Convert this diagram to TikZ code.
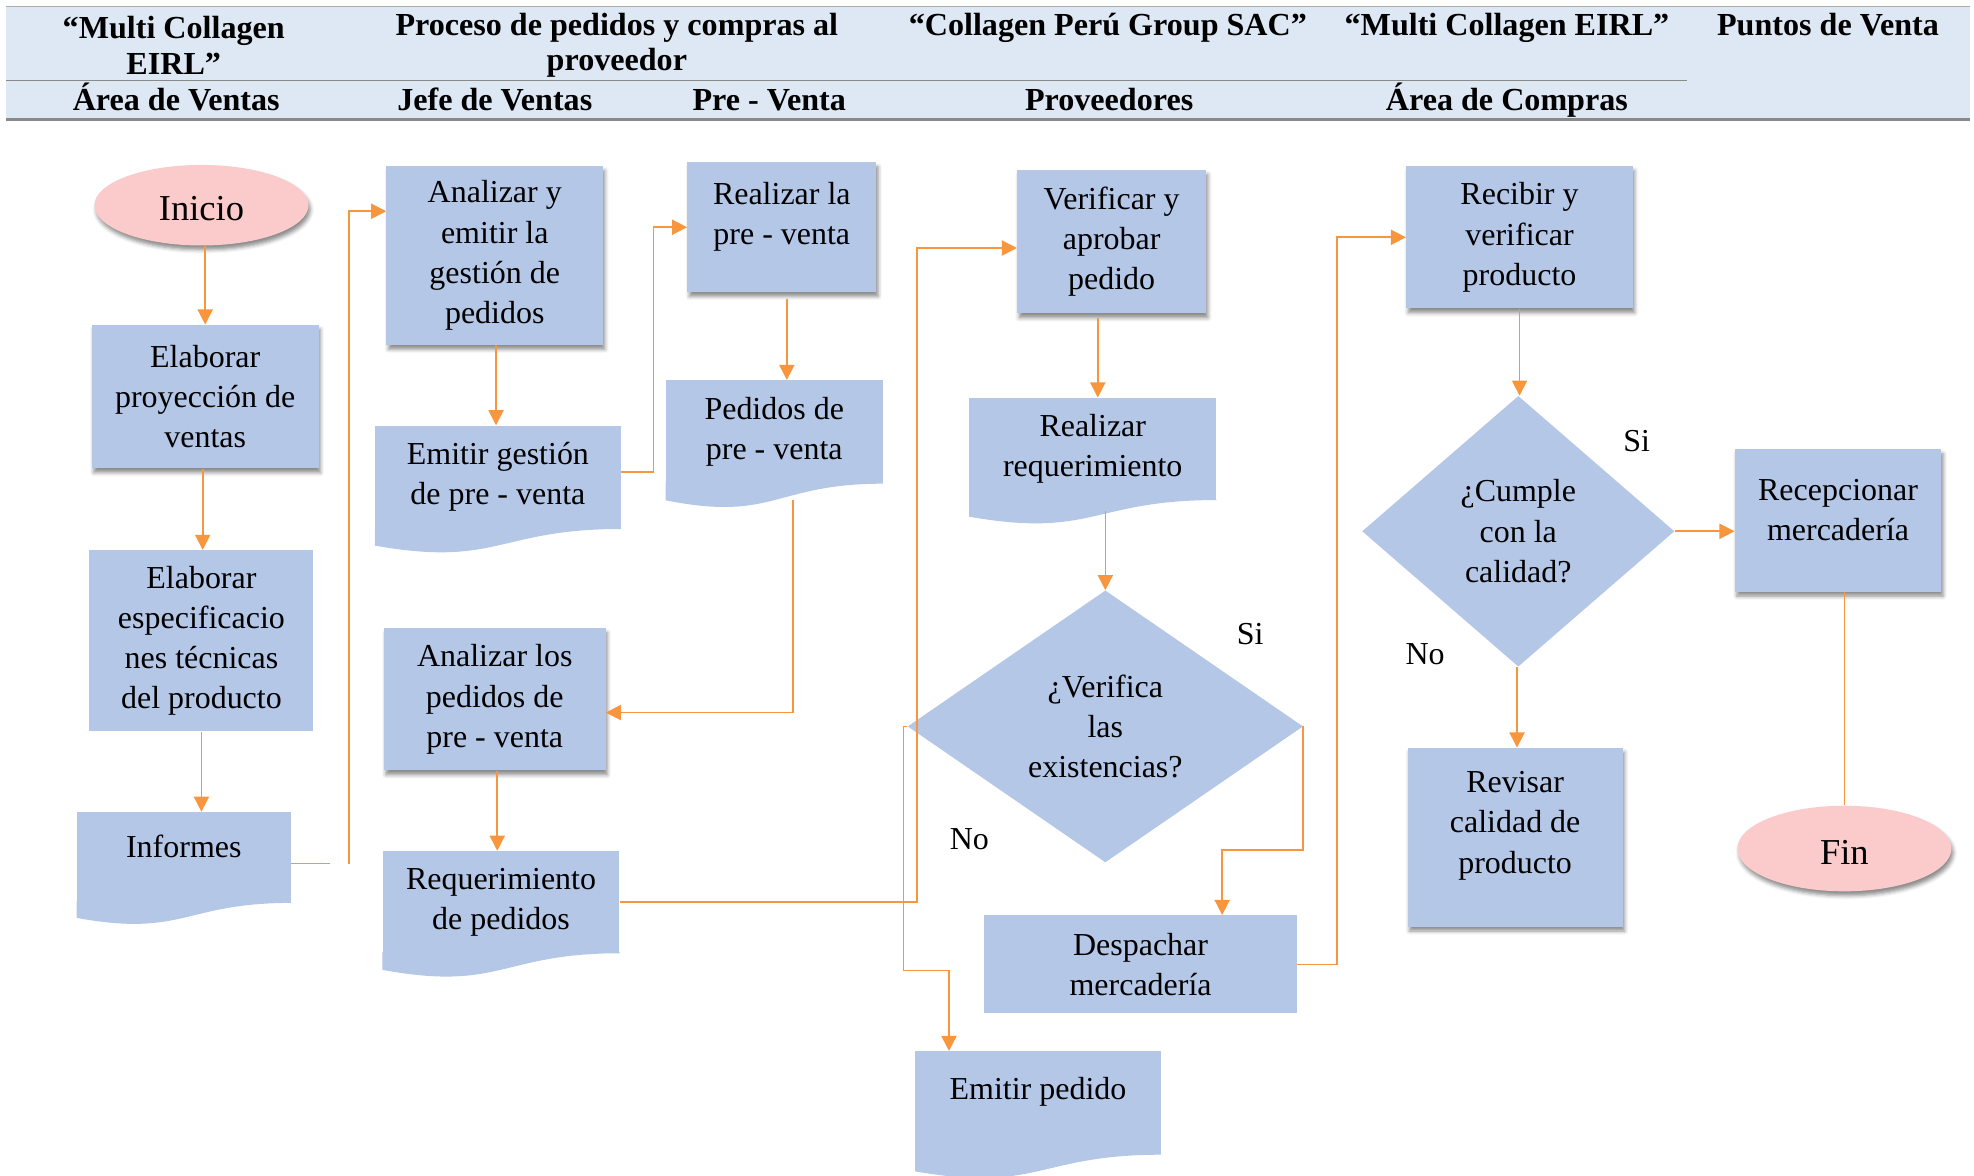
\documentclass[tikz,border=0pt]{standalone}
\usepackage{fontspec}
\setmainfont{Liberation Serif}
\usetikzlibrary{shapes.geometric,arrows.meta,calc,shadows.blur}
\definecolor{boxc}{HTML}{B4C7E7}
\definecolor{pinkc}{HTML}{FBCBCB}
\definecolor{orc}{HTML}{F7963D}
\definecolor{hdrc}{HTML}{DDE8F4}
\definecolor{hdrline}{HTML}{8A8A8A}
\newcommand{\docwave}[2]{%
  \fill[boxc] ($(#1.south east)+(0,-1)$) -- (#1.south east)
    .. controls (#1.south) and ($(#1.south)+(0,0.305*#2)$) ..
    ($(#1.south west)+(0,0.132*#2)$) -- ($(#1.south west)+(0,-1)$) -- cycle;}
\begin{document}
\begin{tikzpicture}[x=1pt,y=-1pt,
  font=\fontsize{25.4}{32}\selectfont,
  base/.style={align=center, inner sep=0pt},
  proc/.style={base, rectangle, fill=boxc},
  shad/.style={blur shadow={shadow xshift=1.5pt, shadow yshift=-3.5pt, shadow blur radius=3pt, shadow opacity=45}},
  doc/.style={base, rectangle, fill=boxc},
  dec/.style={base, diamond, fill=boxc},
  term/.style={base, ellipse, fill=pinkc, shad, font=\fontsize{29}{34}\selectfont, text height=25pt, text depth=0pt},
  arr/.style={draw=orc, line width=1.3pt, -{Triangle[width=12pt,length=12pt]}},
  ln/.style={draw=orc, line width=1.3pt},
  hdr/.style={base, font=\bfseries\fontsize{25.5}{28}\selectfont},
  hdr1/.style={hdr, text height=17pt, text depth=5pt},
  lbl/.style={base, text height=17pt, text depth=5pt}
]
\useasboundingbox (0,0) rectangle (1568,934);

% ---------- header ----------
\fill[hdrc] (5,5) rectangle (1565,95);
\draw[hdrline!70, line width=0.8pt] (5,5) -- (1565,5);
\draw[hdrline, line width=0.8pt] (5,64) -- (1340,64);
\draw[hdrline, line width=2.4pt] (5,95) -- (1565,95);

\node[hdr] (h1) at (138,36) {“Multi Collagen\\EIRL”};
\node[hdr] (h2) at (490,36) {Proceso de pedidos y compras al\\proveedor};
\node[hdr1] (h3) at (880,22) {“Collagen Perú Group SAC”};
\node[hdr1] (h4) at (1197,22) {“Multi Collagen EIRL”};
\node[hdr1] (h5) at (1452,22) {Puntos de Venta};
\node[hdr1] (s1) at (140,82) {Área de Ventas};
\node[hdr1] (s2) at (393,82) {Jefe de Ventas};
\node[hdr1] (s3) at (611,82) {Pre - Venta};
\node[hdr1] (s4) at (881,82) {Proveedores};
\node[hdr1] (s5) at (1197,82) {Área de Compras};

% ---------- nodes ----------
\node[term, minimum width=170, minimum height=64] (ini) at (160,163) {Inicio};
\node[proc, shad, minimum width=180, minimum height=114] (ep1) at (163,315) {Elaborar\\proyección de\\ventas};
\node[proc, minimum width=178, minimum height=144] (ep2) at (160,509) {Elaborar\\especificacio\\nes técnicas\\del producto};
\node[doc, minimum width=170, minimum height=72, text depth=18pt] (inf) at (146,681) {Informes};
\docwave{inf}{90}

\node[proc, shad, minimum width=172, minimum height=142] (ae) at (393,203) {Analizar y\\emitir la\\gestión de\\pedidos};
\node[doc, minimum width=195, minimum height=82] (eg) at (395.5,379) {Emitir gestión\\de pre - venta};
\docwave{eg}{100}
\node[proc, shad, minimum width=176, minimum height=113] (al) at (393,555.5) {Analizar los\\pedidos de\\pre - venta};
\node[doc, minimum width=188, minimum height=81] (rq) at (398,716.5) {Requerimiento\\de pedidos};
\docwave{rq}{100}

\node[proc, shad, minimum width=150, minimum height=103, text depth=22pt] (rp) at (621,180.5) {Realizar la\\pre - venta};
\node[doc, minimum width=172, minimum height=82] (pp) at (615,343) {Pedidos de\\pre - venta};
\docwave{pp}{100}

\node[proc, shad, minimum width=150, minimum height=114] (va) at (883,192) {Verificar y\\aprobar\\pedido};
\node[doc, minimum width=196, minimum height=81] (rr) at (868,356.5) {Realizar\\requerimiento};
\docwave{rr}{100}
\node[dec, minimum width=314, minimum height=216] (d1) at (878,577) {¿Verifica\\las\\existencias?};
\node[proc, minimum width=248, minimum height=78] (dm) at (906,766) {Despachar\\mercadería};
\node[doc, minimum width=195, minimum height=82, text depth=23.5pt] (epd) at (824.5,876) {Emitir pedido};
\docwave{epd}{100}

\node[proc, shad, minimum width=180, minimum height=113] (rv) at (1207,188.5) {Recibir y\\verificar\\producto};
\node[dec, minimum width=248, minimum height=215] (d2) at (1206,422) {¿Cumple\\con la\\calidad?};
\node[proc, shad, minimum width=171, minimum height=142, text depth=23.5pt] (rc) at (1203.5,665) {Revisar\\calidad de\\producto};
\node[proc, shad, minimum width=164, minimum height=113, text depth=16.5pt] (rm) at (1460,413.5) {Recepcionar\\mercadería};
\node[term, minimum width=170, minimum height=68] (fin) at (1465,674) {Fin};

% labels
\node[lbl] (si1) at (993,506) {Si};
\node[lbl] (no1) at (770,669) {No};
\node[lbl] (si2) at (1300,353) {Si};
\node[lbl] (no2) at (1132,522) {No};

% ---------- connectors ----------
\draw[arr] (ini.south -| ep1.north) -- (ep1.north);
\draw[arr] ($(ep1.south)+(-2,0)$) -- ($(ep1.south |- ep2.north)+(-2,0)$);
\draw[arr] (ep2.south) -- (ep2.south |- inf.north);
\coordinate (infstub) at ($(inf.east)+(31,5)$);
\draw[ln] ($(inf.east)+(0,5)$) -- (infstub);
\draw[arr] ($(infstub)+(15,0)$) |- ($(ae.north west)+(0,36)$);

\draw[arr] ($(ae.south)+(1,0)$) -- ($(ae.south |- eg.north)+(1,0)$);
\draw[arr] ($(eg.east)+(0,-4)$) -- ++(26,0) |- (rp.west);
\draw[arr] ($(rp.south)+(4,5)$) -- ($(rp.south |- pp.north)+(4,0)$);
\draw[arr] ($(pp.south)+(15,13)$) |- ($(al.east)+(0,10.5)$);
\draw[arr] ($(al.south)+(2,0)$) -- ($(al.south |- rq.north)+(2,0)$);
\draw[arr] (rq.east) -- ++(236,0) |- ($(va.west)+(0,5)$);

\draw[arr] ($(va.south)+(-11,3)$) -- ($(va.south |- rr.north)+(-11,0)$);
\draw[arr] ($(d1.north |- rr.south)+(0,9)$) -- (d1.north);
\draw[arr] (d1.west) -- ++(-3,0) -- ++(0,194) -| ($(epd.north west)+(27,0)$);
\draw[arr] (d1.east) -- ++(0,98) -| ($(dm.north west)+(189,0)$);
\draw[arr] (dm.east) -- ++(32,0) |- (rv.west);

\draw[arr] (rv.south) -- (rv.south |- d2.north);
\draw[arr] (d2.east) -- (d2.east -| rm.west);
\draw[arr] ($(d2.south)+(-1,0)$) -- ($(d2.south |- rc.north)+(-1,0)$);
\draw[ln] (rm.south -| fin.north) -- (fin.north);
\end{tikzpicture}
\end{document}
